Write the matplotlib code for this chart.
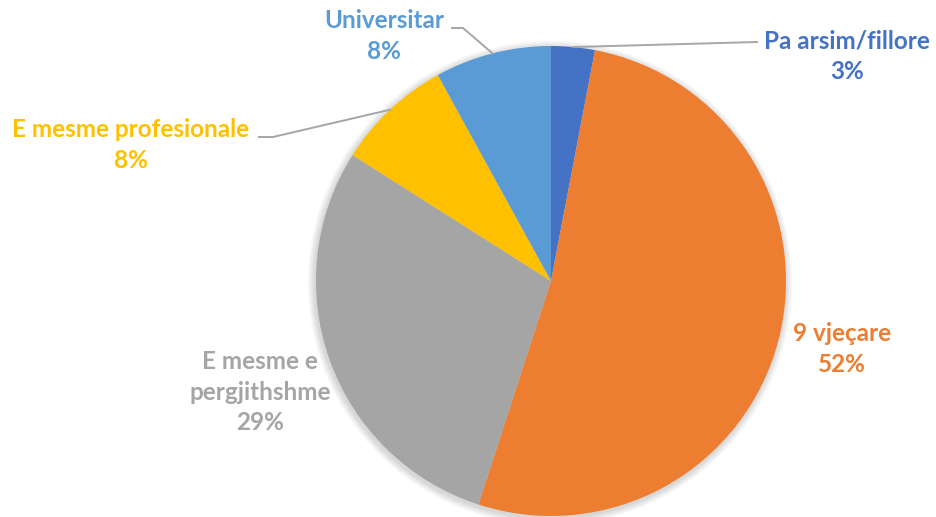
import numpy as np
import matplotlib
matplotlib.use('Agg')
import matplotlib.pyplot as plt
from matplotlib.patches import Circle

# Data
categories = ['Pa arsim/fillore', '9 vjeçare', 'E mesme e\npergjithshme',
              'E mesme profesionale', 'Universitar']
shares = [3, 52, 29, 8, 8]
colors = ['#4472C4', '#ED7D31', '#A5A5A5', '#FFC000', '#5B9BD5']

W, H = 936, 517
fig = plt.figure(figsize=(W / 100, H / 100), dpi=100)
ax = fig.add_axes([0, 0, 1, 1])

cx, cy, r = 551, H - 281, 235

# soft shadow behind the pie
for i in range(8):
    ax.add_patch(Circle((cx - 1, cy - 2), r + 1 + i * 0.9, color='black',
                        alpha=0.018, lw=0, zorder=0))

wedges, _ = ax.pie(shares, colors=colors, startangle=90, counterclock=False,
                   center=(cx, cy), radius=r, frame=True,
                   wedgeprops=dict(linewidth=0))
ax.set_xlim(0, W)
ax.set_ylim(0, H)
ax.set_aspect('equal')
ax.axis('off')

def edge_point(w):
    ang = np.deg2rad((w.theta1 + w.theta2) / 2)
    return cx + r * np.cos(ang), cy + r * np.sin(ang)

font = dict(family='Lato', fontweight='bold', fontsize=17.5,
            ha='center', va='center', linespacing=1.38)
lead = dict(color='#A6A6A6', lw=1.4, zorder=3)

# label text positions (pixel layout)
label_pos = {0: (847, H - 56), 1: (842, H - 349), 2: (260, H - 392),
             3: (131, H - 145), 4: (384, H - 36)}
for i, (name, val) in enumerate(zip(categories, shares)):
    x, y = label_pos[i]
    ax.text(x, y, f'{name}\n{val}%', color=colors[i], **font)

# leader lines
px, py = edge_point(wedges[0])
ax.plot([px, 757], [py, H - 42], **lead)

px, py = edge_point(wedges[4])
ax.plot([452, 463, px], [H - 28, H - 28, py], **lead)

px, py = edge_point(wedges[3])
ax.plot([259, 273, px], [H - 137, H - 137, py], **lead)

fig.savefig('out.png', dpi=100, facecolor='white')
